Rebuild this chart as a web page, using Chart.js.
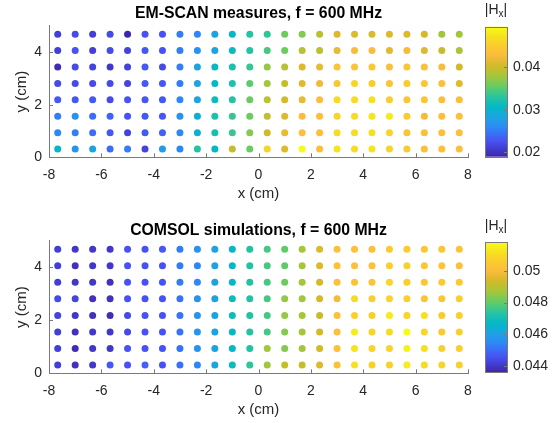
<!DOCTYPE html>
<html>
<head>
<meta charset="utf-8">
<script src="https://cdn.jsdelivr.net/npm/chart.js@4.4.1/dist/chart.umd.min.js"></script>
<style>
  body { margin: 0; background: #fff; width: 555px; height: 423px; overflow: hidden; position: relative;
         font-family: "Liberation Sans", Arial, sans-serif; }
  .box { position: absolute; }
  .cblabel { position: absolute; width: 40px; text-align: center; font-size: 14px; line-height: 16px; color: #262626; }
  .cblabel sub { font-size: 10px; line-height: 0; vertical-align: -3px; }
</style>
</head>
<body>
<div class="box" style="left:0;top:0;width:555px;height:212px"><canvas id="scan"></canvas></div>
<div class="box" style="left:470px;top:0;width:85px;height:212px"><canvas id="scanBar"></canvas></div>
<div class="box" style="left:0;top:212px;width:555px;height:211px"><canvas id="comsol"></canvas></div>
<div class="box" style="left:470px;top:212px;width:85px;height:211px"><canvas id="comsolBar"></canvas></div>
<div class="cblabel" style="left:476px;top:1px">|H<sub>x</sub>|</div>
<div class="cblabel" style="left:476px;top:217px">|H<sub>x</sub>|</div>
<script>
// probe grid (cm)
const xCols = [-7.667, -7, -6.333, -5.667, -5, -4.333, -3.667, -3, -2.333, -1.667, -1, -0.333,
               0.333, 1, 1.667, 2.333, 3, 3.667, 4.333, 5, 5.667, 6.333, 7, 7.667];
const yRows = [4.688, 4.063, 3.438, 2.813, 2.188, 1.563, 0.938, 0.313]; // top row first

// |Hx| measured by EM-SCAN, one row per yRows entry
const scanHx = [
  [0.0211,0.0220,0.0211,0.0220,0.0190,0.0226,0.0226,0.0251,0.0257,0.0281,0.0306,0.0327,0.0333,0.0357,0.0366,0.0388,0.0409,0.0409,0.0409,0.0409,0.0409,0.0403,0.0378,0.0378],
  [0.0211,0.0226,0.0211,0.0220,0.0214,0.0230,0.0226,0.0251,0.0266,0.0281,0.0312,0.0327,0.0342,0.0357,0.0388,0.0388,0.0415,0.0427,0.0427,0.0412,0.0424,0.0409,0.0397,0.0382],
  [0.0196,0.0220,0.0214,0.0205,0.0214,0.0230,0.0220,0.0251,0.0281,0.0306,0.0321,0.0336,0.0372,0.0388,0.0409,0.0415,0.0439,0.0439,0.0445,0.0433,0.0442,0.0433,0.0427,0.0403],
  [0.0220,0.0220,0.0220,0.0220,0.0214,0.0230,0.0230,0.0251,0.0281,0.0306,0.0321,0.0351,0.0378,0.0397,0.0412,0.0421,0.0442,0.0458,0.0451,0.0439,0.0448,0.0442,0.0433,0.0412],
  [0.0230,0.0230,0.0230,0.0220,0.0226,0.0230,0.0230,0.0257,0.0281,0.0312,0.0327,0.0357,0.0391,0.0403,0.0415,0.0433,0.0464,0.0464,0.0470,0.0451,0.0442,0.0439,0.0433,0.0433],
  [0.0251,0.0266,0.0242,0.0236,0.0226,0.0230,0.0230,0.0266,0.0296,0.0321,0.0336,0.0357,0.0394,0.0409,0.0427,0.0433,0.0458,0.0464,0.0473,0.0479,0.0448,0.0424,0.0433,0.0433],
  [0.0257,0.0251,0.0242,0.0230,0.0214,0.0230,0.0236,0.0257,0.0296,0.0318,0.0336,0.0366,0.0403,0.0415,0.0433,0.0433,0.0464,0.0464,0.0470,0.0458,0.0439,0.0433,0.0433,0.0433],
  [0.0306,0.0266,0.0281,0.0242,0.0251,0.0214,0.0275,0.0257,0.0327,0.0306,0.0397,0.0357,0.0458,0.0409,0.0494,0.0433,0.0473,0.0464,0.0473,0.0458,0.0448,0.0433,0.0433,0.0433]
];

// |Hx| from the COMSOL model
const comsolHx = [
  [0.04417,0.04401,0.04401,0.04401,0.04458,0.04458,0.04467,0.04524,0.04565,0.04606,0.04672,0.04729,0.04770,0.04795,0.04868,0.04950,0.05016,0.05016,0.05016,0.05057,0.05057,0.05041,0.05041,0.05032],
  [0.04417,0.04385,0.04401,0.04401,0.04458,0.04458,0.04458,0.04524,0.04540,0.04606,0.04672,0.04729,0.04770,0.04795,0.04868,0.04950,0.05016,0.05016,0.05016,0.05073,0.05073,0.05041,0.05032,0.05016],
  [0.04417,0.04401,0.04401,0.04385,0.04458,0.04458,0.04458,0.04524,0.04540,0.04606,0.04672,0.04729,0.04770,0.04811,0.04868,0.04934,0.05016,0.05032,0.05041,0.05082,0.05073,0.05041,0.05057,0.05057],
  [0.04442,0.04426,0.04385,0.04385,0.04458,0.04458,0.04458,0.04508,0.04565,0.04606,0.04688,0.04729,0.04770,0.04852,0.04868,0.04934,0.04991,0.05098,0.05073,0.05082,0.05073,0.05032,0.05041,0.05073],
  [0.04426,0.04401,0.04385,0.04376,0.04442,0.04458,0.04458,0.04508,0.04565,0.04606,0.04688,0.04729,0.04770,0.04852,0.04868,0.04918,0.05016,0.05073,0.05073,0.05139,0.05082,0.05114,0.05057,0.05073],
  [0.04417,0.04385,0.04401,0.04401,0.04442,0.04458,0.04458,0.04508,0.04565,0.04606,0.04672,0.04729,0.04770,0.04836,0.04868,0.04934,0.05016,0.05139,0.05082,0.05098,0.05180,0.05082,0.05057,0.05073],
  [0.04417,0.04376,0.04401,0.04401,0.04458,0.04458,0.04458,0.04508,0.04565,0.04606,0.04672,0.04729,0.04868,0.04836,0.04868,0.04934,0.05016,0.05123,0.05082,0.05082,0.05155,0.05114,0.05073,0.05073],
  [0.04417,0.04385,0.04401,0.04467,0.04458,0.04483,0.04458,0.04508,0.04540,0.04606,0.04688,0.04745,0.04868,0.04918,0.04918,0.04950,0.05016,0.05114,0.05073,0.05073,0.05139,0.05098,0.05082,0.05073]
];

// colour limits of each colorbar
const scanLimits = [0.0190, 0.0494];
const comsolLimits = [0.0436, 0.0518];

// rough parula stops: [t, r, g, b]
const parulaStops = [
  [0.00, 62, 38, 168], [0.12, 72, 82, 244], [0.22, 46, 135, 247], [0.30, 29, 163, 226],
  [0.38, 4, 184, 198], [0.46, 40, 196, 160], [0.54, 100, 204, 100], [0.62, 165, 198, 58],
  [0.70, 210, 186, 40], [0.78, 252, 187, 61], [0.86, 250, 205, 45], [0.93, 245, 228, 30],
  [1.00, 249, 251, 21]
];

function parula(t) {
  t = Math.max(0, Math.min(1, t));
  for (let i = 1; i < parulaStops.length; i++) {
    const a = parulaStops[i - 1], b = parulaStops[i];
    if (t <= b[0]) {
      const f = (t - a[0]) / (b[0] - a[0]);
      const c = [1, 2, 3].map(k => Math.round(a[k] + f * (b[k] - a[k])));
      return `rgb(${c[0]},${c[1]},${c[2]})`;
    }
  }
  return 'rgb(249,251,21)';
}

Chart.defaults.font.family = '"Liberation Sans", Arial, sans-serif';
Chart.defaults.color = '#262626';

const axisColor = '#7a7a7a';

// matlab style inward tick marks
const innerTicks = {
  id: 'innerTicks',
  afterDraw(chart) {
    const ctx = chart.ctx;
    ctx.save();
    ctx.strokeStyle = axisColor;
    ctx.lineWidth = 1;
    const xs = chart.scales.x, ys = chart.scales.y;
    if (xs && xs.options.display) {
      xs.ticks.forEach(t => {
        const px = Math.round(xs.getPixelForValue(t.value)) + 0.5;
        ctx.beginPath(); ctx.moveTo(px, xs.top); ctx.lineTo(px, xs.top - 4); ctx.stroke();
      });
    }
    if (ys.position === 'left') {
      ys.ticks.forEach(t => {
        const py = Math.round(ys.getPixelForValue(t.value)) + 0.5;
        ctx.beginPath(); ctx.moveTo(ys.right, py); ctx.lineTo(ys.right + 4, py); ctx.stroke();
      });
    } else {
      ys.ticks.forEach(t => {
        const py = Math.round(ys.getPixelForValue(t.value)) + 0.5;
        ctx.beginPath(); ctx.moveTo(ys.left, py); ctx.lineTo(ys.left - 3, py); ctx.stroke();
      });
    }
    ctx.restore();
  }
};

function makeScatter(id, title, rows, limits, g) {
  const points = [];
  rows.forEach((row, r) => row.forEach((v, c) => points.push({ x: xCols[c], y: yRows[r], v })));
  new Chart(document.getElementById(id), {
    type: 'scatter',
    data: {
      datasets: [{
        data: points,
        pointRadius: 3.5,
        borderWidth: 0,
        backgroundColor: ctx => parula((ctx.raw.v - limits[0]) / (limits[1] - limits[0]))
      }]
    },
    options: {
      responsive: true,
      maintainAspectRatio: false,
      animation: false,
      events: [],
      layout: { padding: { left: 0, right: 87, top: 0, bottom: 0 } },
      plugins: {
        legend: { display: false },
        tooltip: { enabled: false },
        title: {
          display: true,
          fullSize: false,
          text: title,
          color: '#000',
          font: { size: 15.8, weight: 'bold' },
          padding: { top: g.titleTop, bottom: g.titleBottom }
        }
      },
      scales: {
        x: {
          min: -8, max: 8,
          grid: { display: false, drawTicks: false },
          border: { display: true, color: axisColor, width: 1 },
          ticks: { stepSize: 2, padding: 9, font: { size: 14 }, maxRotation: 0 },
          title: { display: true, text: 'x (cm)', font: { size: 15 }, padding: { top: 0, bottom: g.xTitleBottom } },
          afterFit: s => { s.height = g.xAxisHeight; }
        },
        y: {
          min: 0, max: 5,
          grid: { display: false, drawTicks: false },
          border: { display: true, color: axisColor, width: 1 },
          ticks: { stepSize: 2, includeBounds: false, padding: 7, font: { size: 14 } },
          title: { display: true, text: 'y (cm)', font: { size: 15 }, padding: { top: 13, bottom: 0 } },
          afterFit: s => { s.width = 49; }
        }
      }
    },
    plugins: [innerTicks]
  });
}

const colorbarFill = {
  id: 'colorbarFill',
  beforeDraw(chart) {
    const { ctx, chartArea: a } = chart;
    const ys = chart.scales.y;
    const grad = ctx.createLinearGradient(0, ys.getPixelForValue(ys.min), 0, ys.getPixelForValue(ys.max));
    for (let i = 0; i <= 40; i++) grad.addColorStop(i / 40, parula(i / 40));
    ctx.save();
    ctx.fillStyle = grad;
    ctx.fillRect(a.left, a.top, a.right - a.left, a.bottom - a.top);
    ctx.strokeStyle = axisColor;
    ctx.lineWidth = 1;
    ctx.strokeRect(Math.round(a.left) + 0.5, Math.round(a.top) + 0.5, Math.round(a.right - a.left), Math.round(a.bottom - a.top));
    ctx.restore();
  }
};

function makeColorbar(id, limits, step, padTop, padBottom) {
  new Chart(document.getElementById(id), {
    type: 'scatter',
    data: { datasets: [] },
    options: {
      responsive: true,
      maintainAspectRatio: false,
      animation: false,
      events: [],
      layout: { padding: { left: 15, right: 0, top: padTop, bottom: padBottom } },
      plugins: { legend: { display: false }, tooltip: { enabled: false } },
      scales: {
        x: { display: false },
        y: {
          position: 'right',
          min: limits[0], max: limits[1],
          grid: { display: false, drawTicks: false },
          border: { display: false },
          ticks: {
            stepSize: step, includeBounds: false, padding: 6, font: { size: 14 },
            callback: v => String(parseFloat(v.toFixed(4)))
          },
          afterFit: s => { s.width = 48; }
        }
      }
    },
    plugins: [colorbarFill, innerTicks]
  });
}

makeScatter('scan', 'EM-SCAN measures, f = 600 MHz', scanHx, scanLimits,
  { titleTop: 4.5, titleBottom: 2.5, xAxisHeight: 54.7, xTitleBottom: 8.7 });
makeScatter('comsol', 'COMSOL simulations, f = 600 MHz', comsolHx, comsolLimits,
  { titleTop: 9.5, titleBottom: 0.5, xAxisHeight: 49.7, xTitleBottom: 3.7 });
makeColorbar('scanBar', scanLimits, 0.01, 26.7, 55.3);
makeColorbar('comsolBar', comsolLimits, 0.002, 30.3, 50.7);
</script>
</body>
</html>
